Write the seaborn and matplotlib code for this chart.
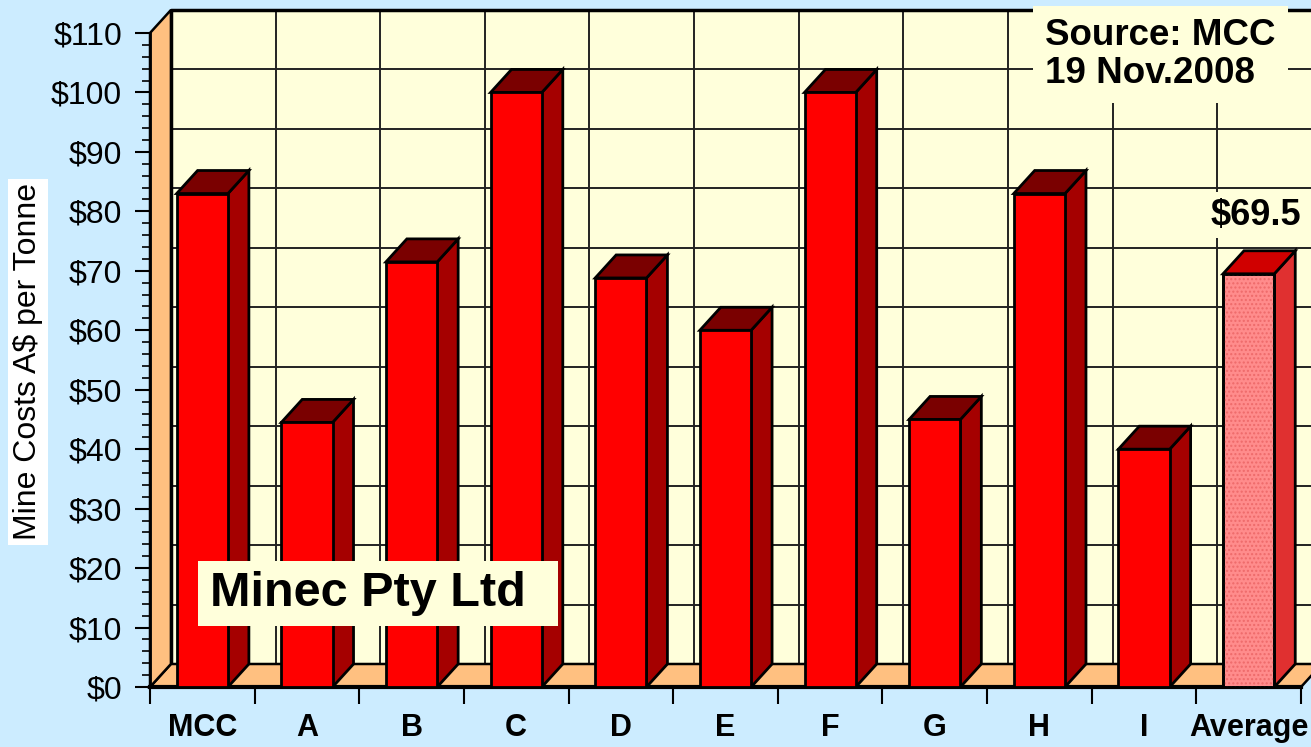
import numpy as np
import pandas as pd
import matplotlib
matplotlib.use("Agg")
import matplotlib.pyplot as plt
from matplotlib.patches import Polygon, Rectangle
from matplotlib.ticker import MultipleLocator
import seaborn as sns

# data
categories = ["MCC", "A", "B", "C", "D", "E", "F", "G", "H", "I", "Average"]
costs = [83, 44.5, 71.5, 100, 68.8, 60, 100, 45, 83, 40, 69.5]
avg_label = "$69.5"
y_ticks = list(range(0, 111, 10))

BG = "#CCECFF"
WALL = "#FFFFDB"
ORANGE = "#FFC080"
FRONT = ["#FF0000"] * 10 + ["#FF8C8C"]
SIDE = ["#A50000"] * 10 + ["#E03030"]
TOP = ["#7A0000"] * 10 + ["#D00000"]
DX, DY = 0.2, 3.87  # oblique depth of the fake 3d box (data units)

df = pd.DataFrame({"firm": categories, "cost": costs})

sns.set_style("white")
plt.rcParams["font.family"] = ["Liberation Sans", "DejaVu Sans"]
plt.rcParams["text.color"] = "black"

fig = plt.figure(figsize=(13.11, 7.47), dpi=100, facecolor=BG)
ax = fig.add_axes([150 / 1311, 60 / 747, 1151 / 1311, 654 / 747])
ax.set_facecolor("none")

sns.barplot(data=df, x="firm", y="cost", hue="firm", palette=FRONT,
            saturation=1, width=0.49, edgecolor="black", linewidth=2,
            legend=False, ax=ax, zorder=5)
bars = list(ax.patches)

x0, x1 = -0.5, len(categories) - 0.5
ax.set_xlim(x0, x1)
ax.set_ylim(0, 110)

# back wall + grid
ax.add_patch(Polygon([(x0 + DX, DY), (x1 + DX, DY), (x1 + DX, 110 + DY), (x0 + DX, 110 + DY)],
                     facecolor=WALL, edgecolor="none", zorder=0, clip_on=False))
for v in y_ticks[1:-1]:
    ax.plot([x0 + DX, x1 + DX], [v + DY] * 2, color="#222222", lw=1.4, zorder=1, clip_on=False)
for i in range(1, len(categories) + 1):
    ax.plot([x0 + i + DX] * 2, [DY, 110 + DY], color="#222222", lw=1.4, zorder=1, clip_on=False)
ax.plot([x0 + DX, x0 + DX, x1 + DX], [DY, 110 + DY, 110 + DY], color="black", lw=2.5,
        zorder=1, clip_on=False)

# floor and side wall
ax.add_patch(Polygon([(x0, 0), (x1, 0), (x1 + DX, DY), (x0 + DX, DY)],
                     facecolor=ORANGE, edgecolor="black", lw=1.8, zorder=2, clip_on=False))
ax.add_patch(Polygon([(x0, 0), (x0 + DX, DY), (x0 + DX, 110 + DY), (x0, 110)],
                     facecolor=ORANGE, edgecolor="black", lw=1.8, zorder=2, clip_on=False))

# 3d sides and tops of the bars
for p, s, t in zip(bars, SIDE, TOP):
    bx, bw, bh = p.get_x(), p.get_width(), p.get_height()
    ax.add_patch(Polygon([(bx + bw, 0), (bx + bw + DX, DY), (bx + bw + DX, bh + DY), (bx + bw, bh)],
                         facecolor=s, edgecolor="black", lw=2, zorder=4))
    ax.add_patch(Polygon([(bx, bh), (bx + DX, bh + DY), (bx + bw + DX, bh + DY), (bx + bw, bh)],
                         facecolor=t, edgecolor="black", lw=2, zorder=4))

# dotted texture on the average bar
pa = bars[-1]
ax.add_patch(Rectangle((pa.get_x(), 0), pa.get_width(), pa.get_height(), fill=False,
                       hatch="....", edgecolor="#EE6A6A", lw=0, zorder=5.5))
ax.add_patch(Rectangle((pa.get_x(), 0), pa.get_width(), pa.get_height(), fill=False,
                       edgecolor="black", lw=2, zorder=5.6))

ax.text(len(categories) - 1 + 0.07, costs[-1] + DY + 6, avg_label, ha="center", va="center",
        fontsize=26, fontweight="bold", color="black", zorder=6,
        bbox=dict(boxstyle="square,pad=0.15", facecolor=WALL, edgecolor="none"))

# axes styling
for side in ["top", "right"]:
    ax.spines[side].set_visible(False)
ax.spines["left"].set_linewidth(2)
ax.spines["left"].set_color("black")
ax.spines["bottom"].set_linewidth(3)
ax.spines["bottom"].set_color("black")

ax.set_yticks(y_ticks)
ax.set_yticklabels([f"${v}" for v in y_ticks])
ax.yaxis.set_minor_locator(MultipleLocator(2))
ax.tick_params(axis="y", which="major", left=True, length=11, width=1.5, pad=9,
               labelsize=23, colors="black")
ax.tick_params(axis="y", which="minor", left=True, length=6, width=1.2, colors="black")
ax.set_xticks(range(len(categories)))
ax.set_xticklabels(categories, fontweight="bold")
ax.set_xticks(np.arange(x0, x1 + 0.1, 1), minor=True)
ax.tick_params(axis="x", which="major", bottom=True, length=0, pad=19, labelsize=22,
               colors="black")
ax.tick_params(axis="x", which="minor", bottom=True, length=12, width=1.5, colors="black")
ax.set_xlabel("")
ax.set_ylabel("")

fig.text(28 / 1311, (747 - 362) / 747, "Mine Costs A$ per Tonne", rotation=90,
         ha="center", va="center", fontsize=23, color="black",
         bbox=dict(boxstyle="square,pad=0.15", facecolor="white", edgecolor="none"))

# company name box
fig.patches.append(Rectangle((198 / 1311, (747 - 626) / 747), 360 / 1311, 65 / 747,
                             transform=fig.transFigure, facecolor=WALL, edgecolor="none",
                             zorder=2.9))
fig.text(210 / 1311, (747 - 593) / 747, "Minec Pty Ltd", ha="left", va="center",
         fontsize=35, fontweight="bold", color="black", zorder=3)
fig.text(1045 / 1311, (747 - 18) / 747, "Source: MCC\n19 Nov.2008", ha="left", va="top",
         fontsize=26.5, fontweight="bold", color="black", linespacing=1.1,
         bbox=dict(boxstyle="square,pad=0.33", facecolor=WALL, edgecolor="none"))

fig.savefig("out.png", dpi=100, facecolor=BG)
